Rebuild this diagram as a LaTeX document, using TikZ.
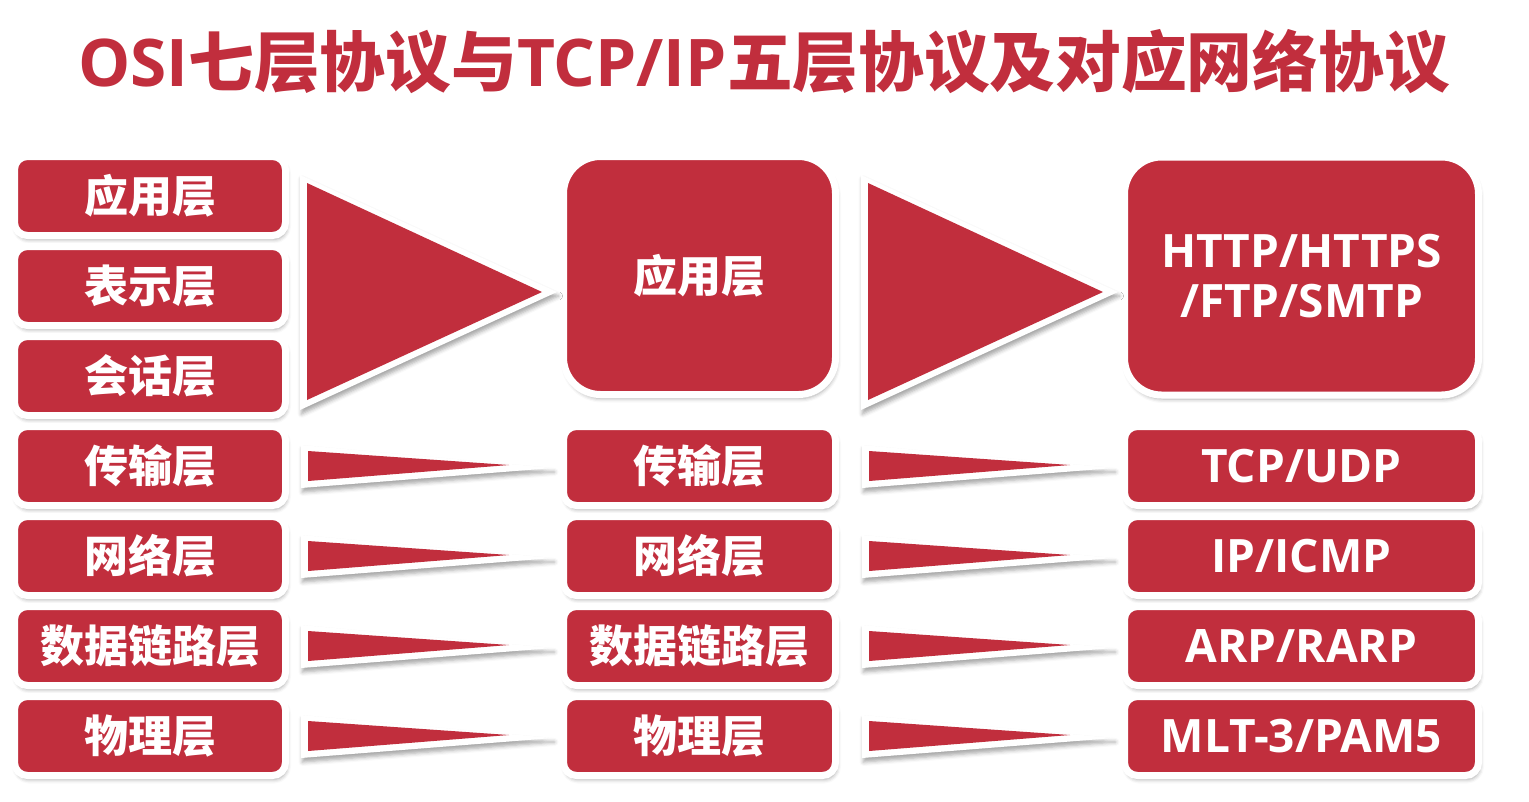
\documentclass[tikz,border=0pt]{standalone}
\usepackage{fontspec}
\usetikzlibrary{shadows.blur}
\newfontfamily\cjk{Noto Sans CJK SC}
\newfontfamily\lat{Open Sans}
\definecolor{osired}{RGB}{193,46,61}
\begin{document}
\begin{tikzpicture}[x=1pt,y=-1pt,
  shd/.style={blur shadow={shadow xshift=1.5pt, shadow yshift=-4pt, shadow blur radius=4pt, shadow opacity=35}},
  box/.style={draw=white, line width=7pt, fill=osired, rounded corners=13pt, inner sep=0pt,
    text=white, align=center, shd, font=\cjk\bfseries\fontsize{44}{50}\selectfont},
  latbox/.style={box, font=\lat\bfseries\fontsize{46}{50}\selectfont},
  lbox/.style={box, minimum width=271pt, minimum height=79pt},
  mbox/.style={box, minimum width=272pt, minimum height=79pt},
  rbox/.style={latbox, minimum width=354pt, minimum height=79pt},
  bigbox/.style={minimum height=238pt, rounded corners=37pt},
  tri/.style={fill=white, shd},
  trired/.style={fill=osired}
]
\useasboundingbox (0,0) rectangle (1529,801);

% title
\node[text=osired, font=\bfseries\fontsize{65.7}{70}\selectfont, inner sep=0pt] (title) at (764,62)
  {{\lat OSI}{\cjk 七层协议与}{\lat TCP/IP}{\cjk 五层协议及对应网络协议}};

% left column (OSI)
\node[lbox] (l1) at (150,196) {应用层};
\node[lbox] (l2) at (150,286) {表示层};
\node[lbox] (l3) at (150,376) {会话层};
\node[lbox] (l4) at (150,466) {传输层};
\node[lbox] (l5) at (150,556) {网络层};
\node[lbox] (l6) at (150,646) {数据链路层};
\node[lbox] (l7) at (150,736) {物理层};

% middle column (TCP/IP)
\node[mbox, bigbox] (m1) at (699.5,275.5) {应用层};
\node[mbox] (m2) at (699.5,466) {传输层};
\node[mbox] (m3) at (699.5,556) {网络层};
\node[mbox] (m4) at (699.5,646) {数据链路层};
\node[mbox] (m5) at (699.5,736) {物理层};

% right column (protocols)
\node[rbox, bigbox] (r1) at (1301.5,276) {HTTP/HTTPS\\/FTP/SMTP};
\node[rbox] (r2) at (1301.5,466) {TCP/UDP};
\node[rbox] (r3) at (1301.5,556) {IP/ICMP};
\node[rbox] (r4) at (1301.5,646) {ARP/RARP};
\node[rbox] (r5) at (1301.5,736) {MLT-3/PAM5};

% big triangles
\foreach \dx in {0,561}{
  \fill[tri] (300+\dx,175) -- (300+\dx,410) -- (557+\dx,292) -- cycle;
  \fill[trired] (307+\dx,183) -- (307+\dx,400) -- (542+\dx,292) -- cycle;
}
% small triangles
\foreach \dx in {0,561}{
  \foreach \y in {466,556,646,736}{
    \fill[tri] (301+\dx,\y-21) -- (301+\dx,\y+22) -- (553+\dx,\y+2) -- cycle;
    \fill[trired] (308+\dx,\y-15) -- (308+\dx,\y+15) -- (509+\dx,\y-1) -- cycle;
  }
}
\end{tikzpicture}
\end{document}
